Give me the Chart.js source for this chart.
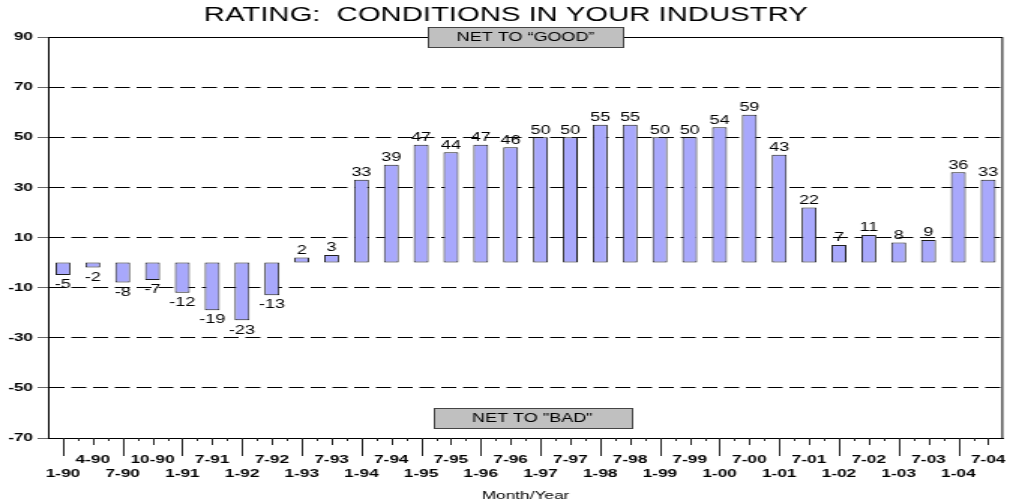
<!DOCTYPE html>
<html>
<head>
<meta charset="utf-8">
<script src="https://cdn.jsdelivr.net/npm/chart.js@4/dist/chart.umd.min.js"></script>
<style>
  html, body { margin: 0; padding: 0; background: #fff; }
</style>
</head>
<body>
<!-- the original is drawn with a horizontally stretched font, so the canvas is stretched 1.5x -->
<canvas id="c" width="677" height="504" style="display:block;width:1016px;height:504px"></canvas>
<script>
const periods = [
  "1-90", "4-90", "7-90", "10-90", "1-91", "7-91", "1-92", "7-92",
  "1-93", "7-93", "1-94", "7-94", "1-95", "7-95", "1-96", "7-96",
  "1-97", "7-97", "1-98", "7-98", "1-99", "7-99", "1-00", "7-00",
  "1-01", "7-01", "1-02", "7-02", "1-03", "7-03", "1-04", "7-04"
];
const netGood = [
  -5, -2, -8, -7, -12, -19, -23, -13,
  2, 3, 33, 39, 47, 44, 47, 46,
  50, 50, 55, 55, 50, 50, 54, 59,
  43, 22, 7, 11, 8, 9, 36, 33
];
const yMin = -70;
const yMax = 90;
const yStep = 20;

const FONT = "'Liberation Sans', Arial, sans-serif";

// value labels over / under the bars
const valueLabels = {
  id: "valueLabels",
  afterDatasetsDraw(chart) {
    const ctx = chart.ctx;
    const meta = chart.getDatasetMeta(0);
    ctx.save();
    ctx.font = "12px " + FONT;
    ctx.fillStyle = "#000";
    ctx.textAlign = "center";
    meta.data.forEach((bar, i) => {
      const v = netGood[i];
      if (v >= 0) {
        ctx.textBaseline = "bottom";
        ctx.fillText(String(v), bar.x, bar.y - 1);
      } else {
        ctx.textBaseline = "top";
        ctx.fillText(String(v), bar.x, bar.y + 4);
      }
    });
    ctx.restore();
  }
};

// frame, x tick marks and the two captions
const frame = {
  id: "frame",
  beforeDatasetsDraw(chart) {
    const {ctx, chartArea: a} = chart;
    ctx.save();
    ctx.strokeStyle = "#000";
    ctx.lineWidth = 1;
    ctx.strokeRect(a.left + 0.5, a.top + 0.5, a.right - a.left - 1, a.bottom - a.top);
    ctx.restore();
  },
  afterDraw(chart) {
    const {ctx, chartArea: a} = chart;
    const xs = chart.scales.x;
    ctx.save();
    ctx.strokeStyle = "#222";
    ctx.lineWidth = 1;
    ctx.beginPath();
    for (let i = 0; i < periods.length; i++) {
      const x = Math.round(xs.getPixelForValue(i)) + 0.5;
      const len = i % 2 === 0 ? 18 : 7;
      ctx.moveTo(x, a.bottom);
      ctx.lineTo(x, a.bottom + len);
      if (i < periods.length - 1) {
        const m = Math.round((xs.getPixelForValue(i) + xs.getPixelForValue(i + 1)) / 2) + 0.5;
        ctx.moveTo(m, a.bottom);
        ctx.lineTo(m, a.bottom + 3);
      }
    }
    ctx.stroke();

    const box = (text, cx, top, w) => {
      ctx.fillStyle = "#c0c0c0";
      ctx.fillRect(Math.round(cx - w / 2) + 0.5, top + 0.5, w, 20);
      ctx.strokeStyle = "#444";
      ctx.strokeRect(Math.round(cx - w / 2) + 0.5, top + 0.5, w, 20);
      ctx.fillStyle = "#000";
      ctx.font = "12px " + FONT;
      ctx.textAlign = "center";
      ctx.textBaseline = "middle";
      ctx.fillText(text, cx, top + 11);
    };
    const mid = (a.left + a.right) / 2;
    box("NET TO \u201cGOOD\u201d", mid, a.top - 10, 130);
    box("NET TO \"BAD\"", mid + 4.5, a.bottom - 30, 132);
    ctx.restore();
  }
};

new Chart(document.getElementById("c"), {
  type: "bar",
  data: {
    labels: periods,
    datasets: [{
      data: netGood,
      backgroundColor: "#a8a8fc",
      borderColor: "#1e1e1e",
      borderWidth: 1,
      borderSkipped: false,
      barPercentage: 0.5,
      categoryPercentage: 1.0
    }]
  },
  options: {
    responsive: false,
    animation: false,
    layout: { padding: { top: 0, right: 3, bottom: 0, left: 0 } },
    plugins: {
      legend: { display: false },
      tooltip: { enabled: false },
      title: {
        display: true,
        text: "RATING:  CONDITIONS IN YOUR INDUSTRY",
        color: "#000",
        font: { family: FONT, size: 19.5, weight: "normal", lineHeight: 1 },
        padding: { top: 6, bottom: 11.5 }
      }
    },
    scales: {
      x: {
        afterFit(scale) { scale.height = 66; },
        grid: { display: false },
        border: { display: true, color: "#000", width: 1 },
        ticks: {
          autoSkip: false,
          maxRotation: 0,
          minRotation: 0,
          padding: 7,
          color: "#000",
          font: { family: FONT, size: 11.5, weight: "bold", lineHeight: 1.2 },
          callback(v, i) {
            return i % 2 === 0 ? ["", periods[i]] : [periods[i], ""];
          }
        },
        title: {
          display: true,
          text: "Month/Year",
          color: "#000",
          font: { family: FONT, size: 11.5, weight: "normal", lineHeight: 1.2 },
          padding: { top: 0, bottom: 1 }
        }
      },
      y: {
        min: yMin,
        max: yMax,
        afterFit(scale) { scale.width = 32; },
        grid: {
          color: "#000",
          lineWidth: 1,
          tickLength: 7,
          tickColor: "#666",
          drawTicks: true
        },
        border: { display: true, color: "#000", width: 1, dash: [10, 4.5] },
        ticks: {
          stepSize: yStep,
          padding: 3,
          color: "#000",
          font: { family: FONT, size: 11.5, weight: "bold" }
        }
      }
    }
  },
  plugins: [valueLabels, frame]
});
</script>
</body>
</html>
